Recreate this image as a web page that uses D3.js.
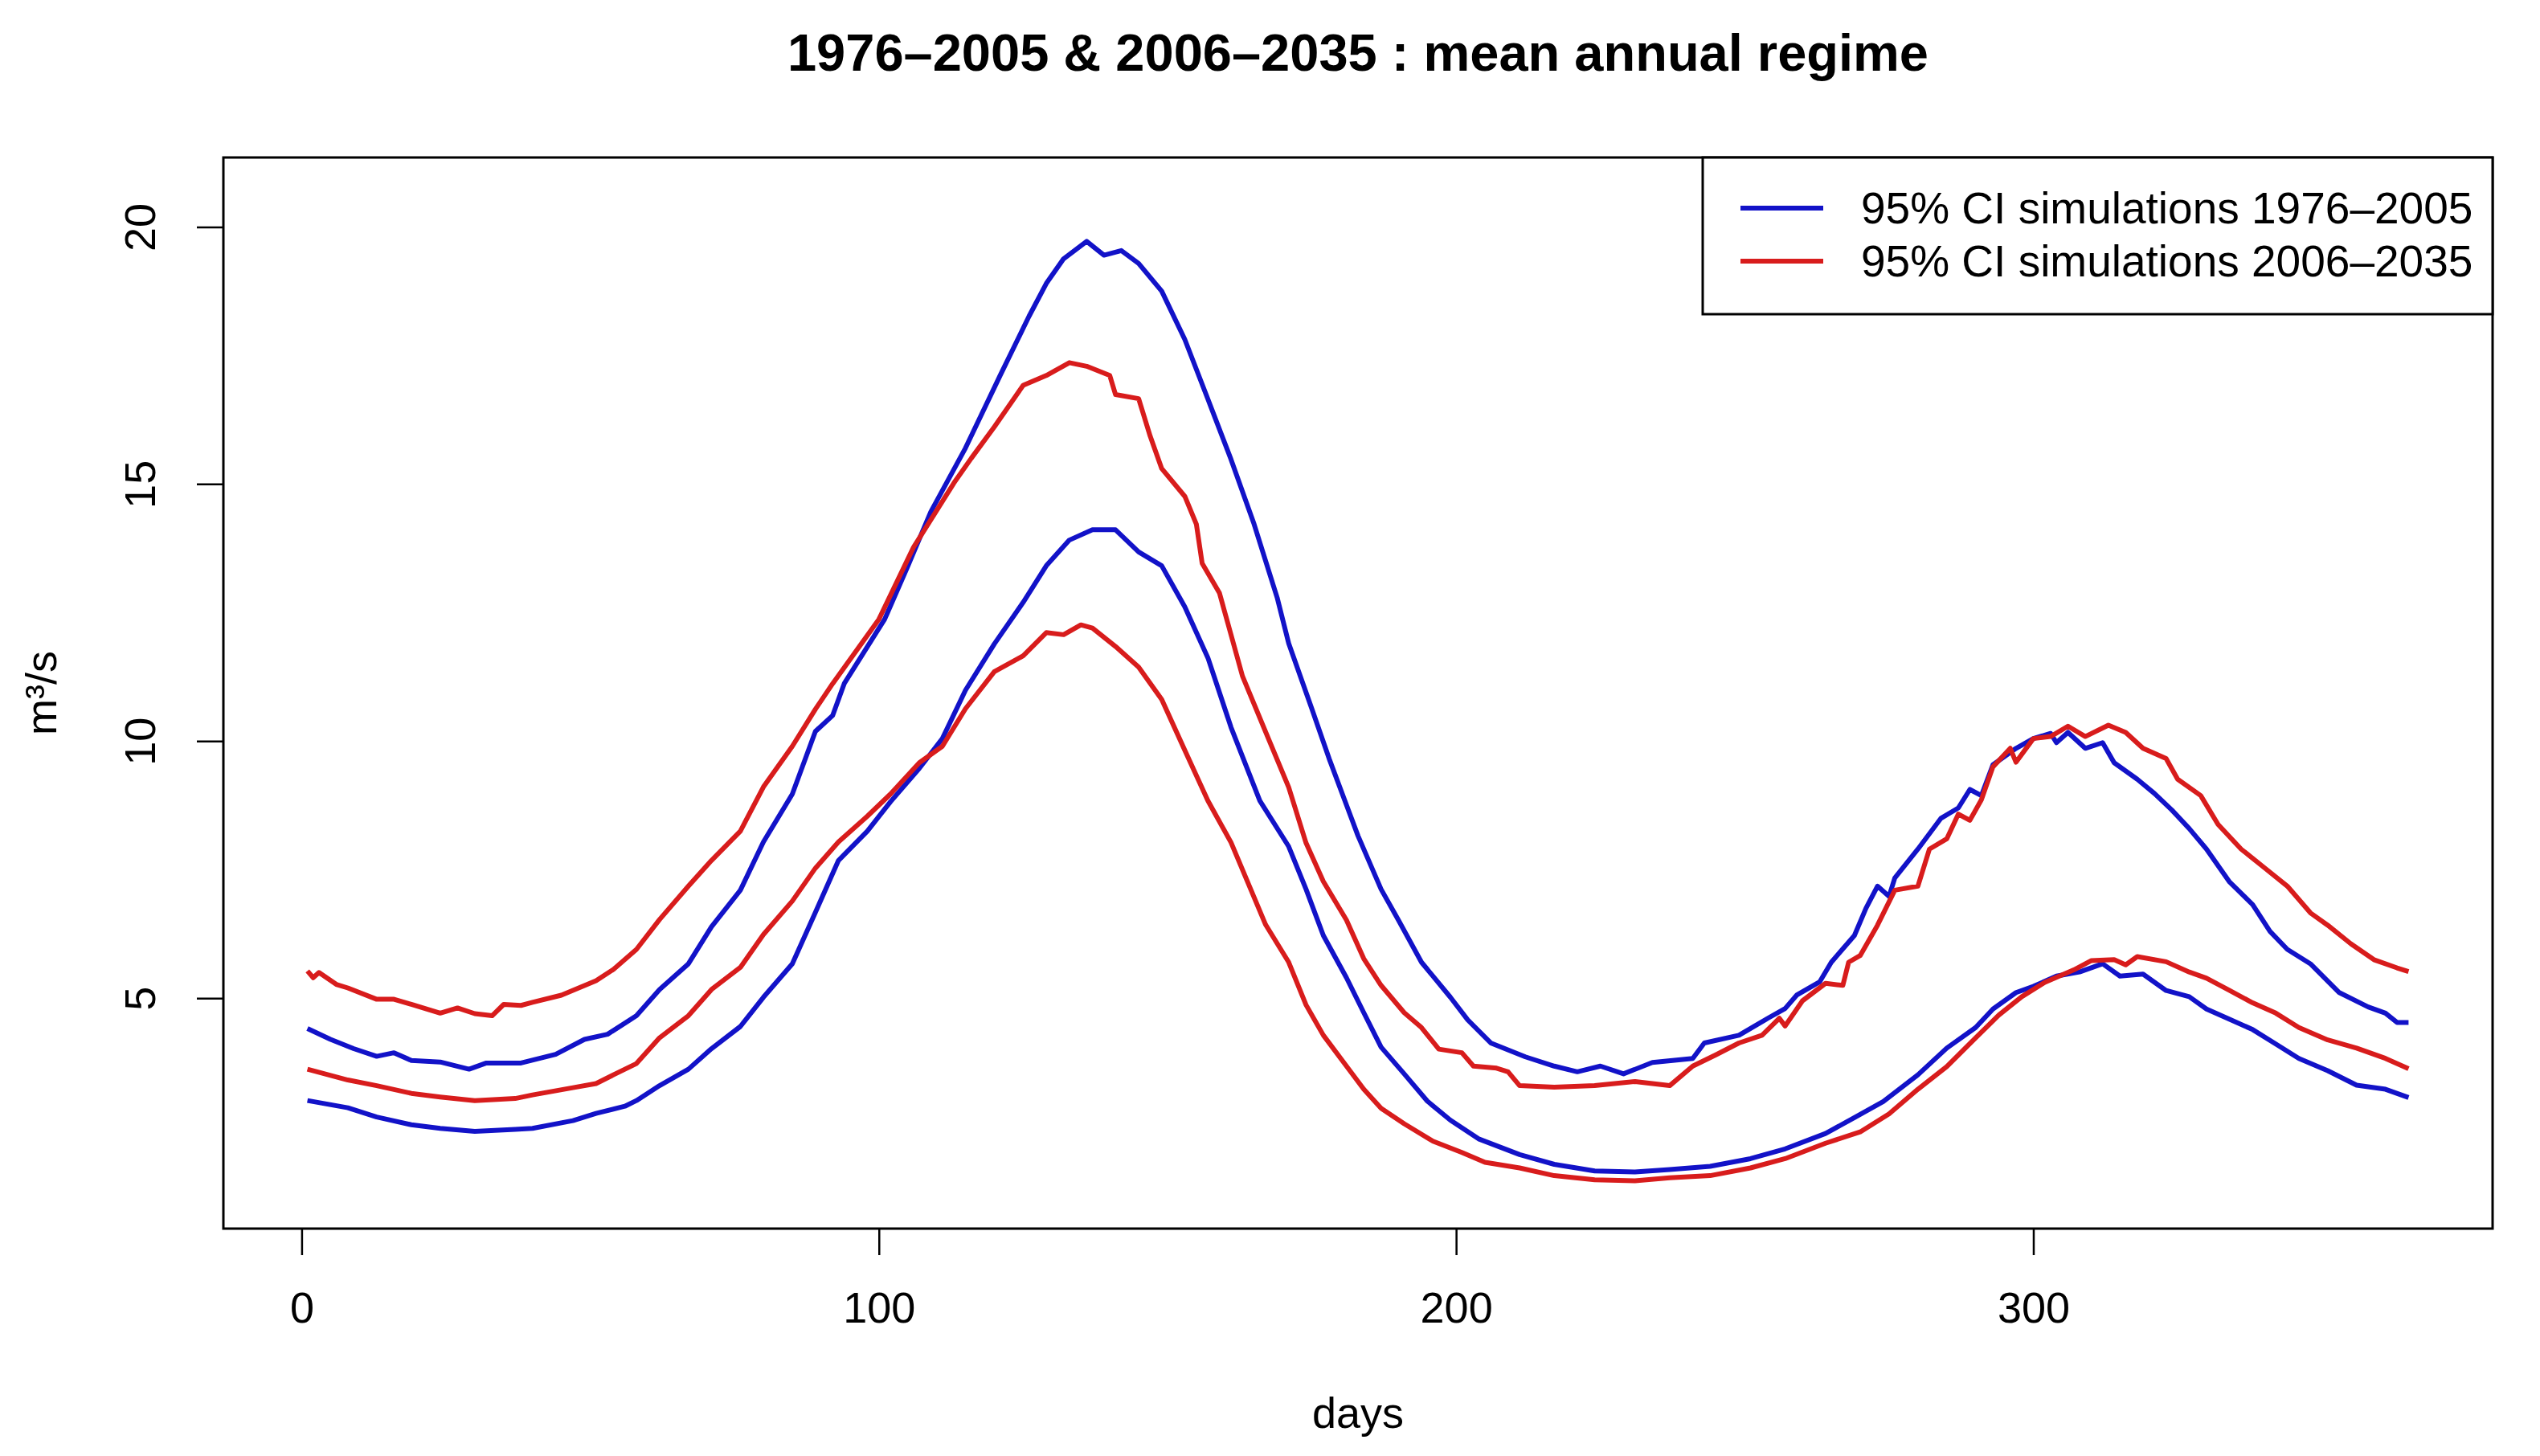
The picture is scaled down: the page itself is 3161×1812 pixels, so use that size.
<!DOCTYPE html>
<html>
<head>
<meta charset="utf-8">
<script src="https://cdn.jsdelivr.net/npm/d3@7"></script>
<style>
  body { margin: 0; background: #fff; }
  svg { display: block; font-family: "Liberation Sans", Arial, sans-serif; }
</style>
</head>
<body>
<div id="chart"></div>
<script>
// [day, m3/s]
const blueUpper = [
  [1, 4.41], [5, 4.2], [9, 4.02], [13, 3.87], [16, 3.94], [19, 3.79], [24, 3.76], [29, 3.62],
  [32, 3.74], [38, 3.74], [44, 3.91], [49, 4.2], [53, 4.3], [58, 4.66], [62, 5.17], [67, 5.67],
  [71, 6.39], [76, 7.1], [80, 8.04], [85, 8.97], [89, 10.19], [92, 10.5], [94, 11.12], [101, 12.37],
  [105, 13.4], [109, 14.46], [115, 15.7], [121, 17.11], [126, 18.26], [129, 18.9], [132, 19.38],
  [136, 19.72], [139, 19.45], [142, 19.54], [145, 19.29], [149, 18.75], [153, 17.81], [157, 16.65],
  [161, 15.48], [165, 14.22], [169, 12.79], [171, 11.9], [175, 10.63], [178, 9.66], [181, 8.76],
  [183, 8.16], [187, 7.12], [190, 6.52], [194, 5.7], [199, 5.02], [202, 4.58], [206, 4.13],
  [212, 3.86], [217, 3.68], [221, 3.57], [225, 3.68], [229, 3.53], [234, 3.75], [241, 3.83],
  [243, 4.13], [249, 4.28], [254, 4.61], [257, 4.8], [259, 5.06], [263, 5.32], [265, 5.7],
  [269, 6.22], [271, 6.75], [273, 7.18], [275, 6.98], [276, 7.34], [280, 7.9], [284, 8.5],
  [287, 8.7], [289, 9.06], [291, 8.94], [293, 9.54], [297, 9.86], [300, 10.05], [303, 10.15],
  [304, 9.97], [306, 10.17], [309, 9.86], [312, 9.97], [314, 9.58], [318, 9.26], [321, 8.98],
  [324, 8.66], [327, 8.3], [330, 7.9], [334, 7.26], [338, 6.82], [341, 6.3], [344, 5.95],
  [348, 5.67], [353, 5.11], [358, 4.83], [361, 4.71], [363, 4.53], [365, 4.53]
];
const blueLower = [
  [1, 3.01], [8, 2.87], [13, 2.69], [19, 2.54], [24, 2.47], [30, 2.41], [37, 2.45], [40, 2.47],
  [47, 2.62], [51, 2.76], [56, 2.9], [58, 3.01], [62, 3.3], [67, 3.62], [71, 4.02], [76, 4.45],
  [80, 5.02], [85, 5.67], [89, 6.67], [93, 7.68], [98, 8.25], [102, 8.82], [107, 9.47], [111, 10.05],
  [115, 10.99], [120, 11.89], [125, 12.7], [129, 13.41], [133, 13.91], [137, 14.11], [141, 14.11],
  [145, 13.68], [149, 13.41], [153, 12.61], [157, 11.62], [161, 10.27], [166, 8.84], [171, 7.95],
  [174, 7.12], [177, 6.22], [181, 5.4], [184, 4.72], [187, 4.05], [191, 3.53], [195, 3.0],
  [199, 2.63], [204, 2.26], [211, 1.96], [217, 1.77], [224, 1.64], [231, 1.62], [237, 1.67],
  [244, 1.73], [251, 1.88], [257, 2.07], [264, 2.37], [269, 2.68], [274, 2.99], [280, 3.51],
  [285, 4.03], [290, 4.43], [293, 4.79], [297, 5.11], [300, 5.23], [304, 5.43], [308, 5.51],
  [312, 5.67], [315, 5.43], [319, 5.47], [323, 5.15], [327, 5.03], [330, 4.79], [334, 4.59],
  [338, 4.39], [342, 4.11], [346, 3.83], [351, 3.59], [356, 3.31], [361, 3.23], [365, 3.07]
];
const redUpper = [
  [1, 5.53], [2, 5.4], [3, 5.5], [6, 5.27], [8, 5.2], [13, 4.98], [16, 4.98], [19, 4.88],
  [24, 4.71], [27, 4.81], [30, 4.7], [33, 4.66], [35, 4.88], [38, 4.86], [40, 4.92], [45, 5.06],
  [51, 5.34], [54, 5.56], [58, 5.95], [62, 6.53], [67, 7.18], [71, 7.68], [76, 8.25], [80, 9.11],
  [85, 9.9], [89, 10.62], [92, 11.12], [100, 12.37], [106, 13.77], [113, 15.02], [116, 15.5],
  [120, 16.11], [125, 16.92], [129, 17.11], [133, 17.36], [136, 17.29], [140, 17.11], [141, 16.74],
  [145, 16.66], [147, 15.93], [149, 15.3], [153, 14.76], [155, 14.22], [156, 13.46], [159, 12.88],
  [163, 11.26], [167, 10.18], [171, 9.1], [174, 8.02], [177, 7.27], [181, 6.52], [184, 5.77],
  [187, 5.25], [191, 4.72], [194, 4.43], [197, 4.01], [201, 3.94], [203, 3.68], [207, 3.64],
  [209, 3.57], [211, 3.3], [217, 3.27], [224, 3.3], [231, 3.38], [237, 3.3], [241, 3.68],
  [245, 3.9], [249, 4.13], [253, 4.28], [256, 4.61], [257, 4.46], [260, 4.95], [264, 5.29],
  [267, 5.25], [268, 5.7], [270, 5.83], [273, 6.42], [276, 7.1], [280, 7.18], [282, 7.9],
  [285, 8.1], [287, 8.58], [289, 8.46], [291, 8.86], [293, 9.5], [296, 9.86], [297, 9.59],
  [300, 10.05], [303, 10.09], [306, 10.29], [309, 10.09], [313, 10.31], [316, 10.17], [319, 9.86],
  [323, 9.66], [325, 9.26], [329, 8.94], [332, 8.38], [336, 7.9], [340, 7.54], [344, 7.18],
  [348, 6.66], [351, 6.42], [355, 6.06], [359, 5.75], [363, 5.59], [365, 5.52]
];
const redLower = [
  [1, 3.62], [8, 3.41], [13, 3.3], [19, 3.15], [24, 3.08], [30, 3.01], [37, 3.05], [40, 3.12],
  [47, 3.26], [51, 3.34], [54, 3.51], [58, 3.73], [62, 4.23], [67, 4.66], [71, 5.17], [76, 5.6],
  [80, 6.24], [85, 6.89], [89, 7.53], [93, 8.04], [98, 8.54], [102, 8.97], [107, 9.58], [111, 9.9],
  [115, 10.63], [120, 11.35], [125, 11.66], [129, 12.11], [132, 12.07], [135, 12.26], [137, 12.2],
  [141, 11.84], [145, 11.44], [149, 10.81], [153, 9.82], [157, 8.84], [161, 8.03], [167, 6.43],
  [171, 5.7], [174, 4.87], [177, 4.28], [181, 3.68], [184, 3.23], [187, 2.86], [191, 2.56],
  [196, 2.22], [201, 2.0], [205, 1.81], [211, 1.7], [217, 1.55], [224, 1.47], [231, 1.45],
  [237, 1.51], [244, 1.55], [251, 1.7], [257, 1.88], [264, 2.18], [270, 2.4], [275, 2.75],
  [280, 3.23], [285, 3.67], [290, 4.23], [294, 4.67], [298, 5.03], [302, 5.31], [307, 5.55],
  [310, 5.73], [314, 5.75], [316, 5.65], [318, 5.81], [323, 5.71], [327, 5.51], [330, 5.39],
  [334, 5.15], [338, 4.91], [342, 4.71], [346, 4.43], [351, 4.19], [356, 4.03], [361, 3.83],
  [365, 3.63]
];

const xTicks = [0, 100, 200, 300];
const yTicks = [5, 10, 15, 20];
const legendLabels = ["95% CI simulations 1976\u20132005", "95% CI simulations 2006\u20132035"];
const titleText = "1976\u20132005 & 2006\u20132035 : mean annual regime";

const BLUE = "#1212c8";
const RED = "#d81c1c";

const width = 3161;
const height = 1812;
const margin = { top: 196, right: 59, bottom: 283, left: 278 };

const svg = d3.select("#chart").append("svg")
  .attr("width", width)
  .attr("height", height);

// R style: data range padded by 4% each side
const x = d3.scaleLinear()
  .domain([-13.56, 379.56])
  .range([margin.left, width - margin.right]);
const y = d3.scaleLinear()
  .domain([0.52, 21.35])
  .range([height - margin.bottom, margin.top]);

const line = d3.line()
  .x((d) => x(d[0]))
  .y((d) => y(d[1]));

// Series
const series = [
  { values: blueUpper, color: BLUE },
  { values: blueLower, color: BLUE },
  { values: redUpper, color: RED },
  { values: redLower, color: RED },
];
svg.append("g")
  .selectAll("path")
  .data(series)
  .join("path")
  .attr("fill", "none")
  .attr("stroke", (d) => d.color)
  .attr("stroke-width", 6)
  .attr("stroke-linejoin", "round")
  .attr("d", (d) => line(d.values));

// X axis
const gX = svg.append("g")
  .attr("transform", `translate(0,${height - margin.bottom})`)
  .call(d3.axisBottom(x).tickValues(xTicks).tickSize(33).tickPadding(0).tickFormat(d3.format("d")));
gX.select(".domain").remove();
gX.selectAll("line").attr("stroke", "#000").attr("stroke-width", 2.5);
gX.selectAll("text")
  .attr("font-size", 54)
  .attr("fill", "#000")
  .attr("y", 117)
  .attr("dy", 0);

// Y axis
const gY = svg.append("g")
  .attr("transform", `translate(${margin.left},0)`)
  .call(d3.axisLeft(y).tickValues(yTicks).tickSize(33).tickFormat(d3.format("d")));
gY.select(".domain").remove();
gY.selectAll("line").attr("stroke", "#000").attr("stroke-width", 2.5);
gY.selectAll(".tick text")
  .attr("font-size", 54)
  .attr("fill", "#000")
  .attr("x", null)
  .attr("dy", null)
  .attr("text-anchor", "middle")
  .attr("transform", `translate(${193 - margin.left},0) rotate(-90)`);

// Plot box
svg.append("rect")
  .attr("x", margin.left)
  .attr("y", margin.top)
  .attr("width", width - margin.left - margin.right)
  .attr("height", height - margin.top - margin.bottom)
  .attr("fill", "none")
  .attr("stroke", "#000")
  .attr("stroke-width", 3);

// Titles
svg.append("text")
  .attr("x", (margin.left + width - margin.right) / 2)
  .attr("y", 88)
  .attr("text-anchor", "middle")
  .attr("font-size", 65)
  .attr("font-weight", "bold")
  .text(titleText);

svg.append("text")
  .attr("x", (margin.left + width - margin.right) / 2)
  .attr("y", 1777)
  .attr("text-anchor", "middle")
  .attr("font-size", 54)
  .text("days");

svg.append("text")
  .attr("transform", `translate(70,${(margin.top + height - margin.bottom) / 2}) rotate(-90)`)
  .attr("text-anchor", "middle")
  .attr("font-size", 54)
  .text("m\u00b3/s");

// Legend (top right, inside)
const legendBox = { x0: 2119, y0: margin.top, x1: width - margin.right, y1: 391 };
const gLegend = svg.append("g").attr("class", "legend");
gLegend.append("rect")
  .attr("x", legendBox.x0)
  .attr("y", legendBox.y0)
  .attr("width", legendBox.x1 - legendBox.x0)
  .attr("height", legendBox.y1 - legendBox.y0)
  .attr("fill", "#fff")
  .attr("stroke", "#000")
  .attr("stroke-width", 3);
const legendItem = gLegend.selectAll(".item")
  .data(legendLabels.map((label, i) => ({ label, color: [BLUE, RED][i] })))
  .join("g")
  .attr("transform", (d, i) => `translate(0,${259 + i * 66})`);
legendItem.append("line")
  .attr("x1", 2166)
  .attr("x2", 2269)
  .attr("stroke", (d) => d.color)
  .attr("stroke-width", 6);
legendItem.append("text")
  .attr("x", 2316)
  .attr("y", 19)
  .attr("font-size", 55)
  .text((d) => d.label);
</script>
</body>
</html>
